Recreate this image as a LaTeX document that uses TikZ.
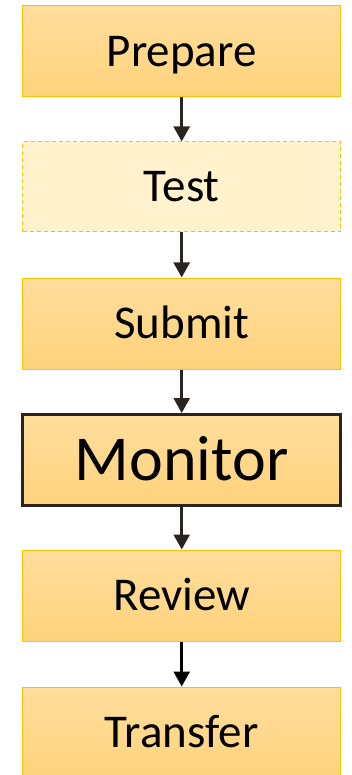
\documentclass[tikz,border=0pt]{standalone}
\usepackage{fontspec}
\setmainfont{Carlito}
\usetikzlibrary{arrows.meta}
\definecolor{boxtop}{HTML}{FFDD9C}
\definecolor{boxbot}{HTML}{FFD37D}
\definecolor{boxline}{HTML}{FFC000}
\definecolor{testfill}{HTML}{FFF2CC}
\definecolor{darkline}{HTML}{2B241E}
\tikzset{
  stepbox/.style={rectangle, draw=boxline, line width=1pt, top color=boxtop, bottom color=boxbot,
    minimum width=318pt, minimum height=91pt, inner sep=0pt,
    font=\fontsize{47}{50}\selectfont, text height=30pt, text depth=0pt},
  testbox/.style={stepbox, fill=testfill, top color=testfill, bottom color=testfill, dashed, dash pattern=on 4pt off 3pt, minimum height=90pt},
  keybox/.style={stepbox, draw=darkline, line width=3pt, font=\fontsize{64}{68}\selectfont, text height=41pt, minimum height=91pt},
  flow/.style={draw=darkline, line width=2.5pt, -{Triangle[width=16pt,length=15pt]}},
}
\begin{document}
\begin{tikzpicture}[x=1pt,y=-1pt]
\useasboundingbox (0,0) rectangle (352,775);
\node[stepbox] (prepare) at (181.7,51.5) {Prepare};
\node[testbox] (test) at (181.7,187) {Test};
\node[stepbox] (submit) at (181.7,323.5) {Submit};
\node[keybox] (monitor) at (181.7,460) {Monitor};
\node[stepbox] (review) at (181.7,595.5) {Review};
\node[stepbox] (transfer) at (181.7,732.5) {Transfer};
\draw[flow] (prepare) -- (test);
\draw[flow] (test) -- (submit);
\draw[flow] (submit) -- (monitor);
\draw[flow] (monitor) -- (review);
\draw[flow, draw=black, fill=black] (review) -- (transfer);
\end{tikzpicture}
\end{document}
